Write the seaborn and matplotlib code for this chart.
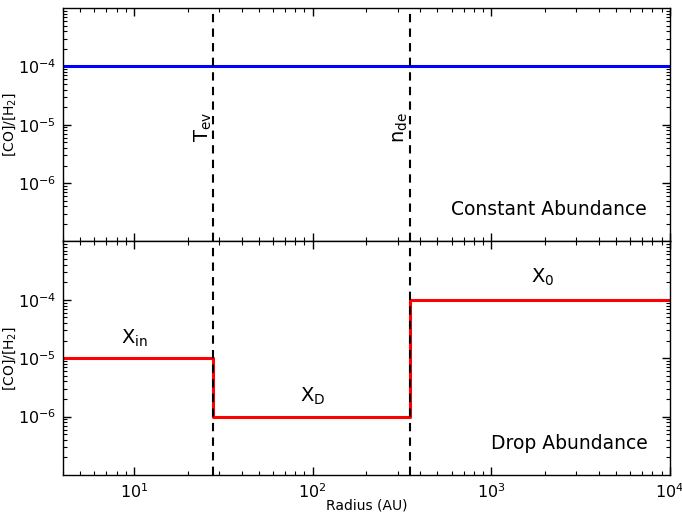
import matplotlib
matplotlib.use("Agg")
import matplotlib.pyplot as plt
import seaborn as sns
import pandas as pd
import numpy as np

# Data
radius_const = [4.0, 1.0e4]
abund_const = [1.0e-4, 1.0e-4]
radius_drop = [4.0, 27.6, 352.0, 1.0e4]
abund_drop = [1.0e-5, 1.0e-6, 1.0e-4, 1.0e-4]
r_ev = 27.6
r_de = 352.0
xlim = (4.0, 1.0e4)
ylim = (1.0e-7, 1.0e-3)

sns.set_style("white")
plt.rcParams['font.family'] = ['DejaVu Sans']
plt.rcParams['mathtext.default'] = 'regular'
for k in ('text.color', 'axes.labelcolor', 'xtick.color', 'ytick.color'):
    plt.rcParams[k] = 'black'

fig, (ax1, ax2) = plt.subplots(2, 1, sharex=True, figsize=(6.82, 5.15), dpi=100)
fig.subplots_adjust(left=0.0924, right=0.982, top=0.9845, bottom=0.0777, hspace=0)

df_c = pd.DataFrame({"r": radius_const, "x": abund_const})
df_d = pd.DataFrame({"r": radius_drop, "x": abund_drop})

sns.lineplot(data=df_c, x="r", y="x", ax=ax1, color="blue", lw=2.2)
sns.lineplot(data=df_d, x="r", y="x", ax=ax2, color="red", lw=2.2, drawstyle="steps-post")

for ax in (ax1, ax2):
    ax.set_xscale("log")
    ax.set_yscale("log")
    ax.set_xlim(*xlim)
    ax.set_ylim(*ylim)
    ax.axvline(r_ev, color="black", ls="--", lw=1.5, dashes=(4, 3))
    ax.axvline(r_de, color="black", ls="--", lw=1.5, dashes=(4, 3))
    ax.set_yticks([1e-6, 1e-5, 1e-4])
    ax.set_yticklabels([r"$10^{-6}$", r"$10^{-5}$", r"$10^{-4}$"])
    ax.yaxis.set_minor_locator(matplotlib.ticker.LogLocator(base=10, subs=np.arange(2, 10) * 1.0, numticks=20))
    ax.yaxis.set_minor_formatter(matplotlib.ticker.NullFormatter())
    ax.tick_params(which="both", direction="in", top=True, right=True, bottom=True, left=True, labelsize=11.5)
    ax.tick_params(which="major", length=6, width=1, pad=5)
    ax.tick_params(which="minor", length=3, width=0.8)
    ax.set_ylabel(r"[CO]/[H$_2$]", fontsize=10)
    ax.yaxis.set_label_coords(-0.074, 0.5)
    for s in ax.spines.values():
        s.set_color("black")
        s.set_linewidth(1)

ax2.set_xticks([10, 100, 1000, 10000])
ax2.set_xticklabels([r"$10^{1}$", r"$10^{2}$", r"$10^{3}$", r"$10^{4}$"])
ax2.xaxis.set_minor_locator(matplotlib.ticker.LogLocator(base=10, subs=np.arange(2, 10) * 1.0, numticks=20))
ax2.xaxis.set_minor_formatter(matplotlib.ticker.NullFormatter())
ax1.set_xlabel("")
ax2.set_xlabel("Radius (AU)", fontsize=10)
ax2.xaxis.set_label_coords(0.5, -0.1)

ax1.text(24.5, 9e-6, r"T$_{ev}$", rotation=90, ha="center", va="center", fontsize=14)
ax1.text(312, 9e-6, r"n$_{de}$", rotation=90, ha="center", va="center", fontsize=14)
ax1.text(2100, 3.5e-7, "Constant Abundance", ha="center", va="center", fontsize=13.5)
ax2.text(2750, 3.5e-7, "Drop Abundance", ha="center", va="center", fontsize=13.5)
ax2.text(10, 2.2e-5, r"X$_{in}$", ha="center", va="center", fontsize=14)
ax2.text(100, 2.2e-6, r"X$_{D}$", ha="center", va="center", fontsize=14)
ax2.text(1950, 2.4e-4, r"X$_{0}$", ha="center", va="center", fontsize=14)

fig.savefig("out.png", dpi=100)
